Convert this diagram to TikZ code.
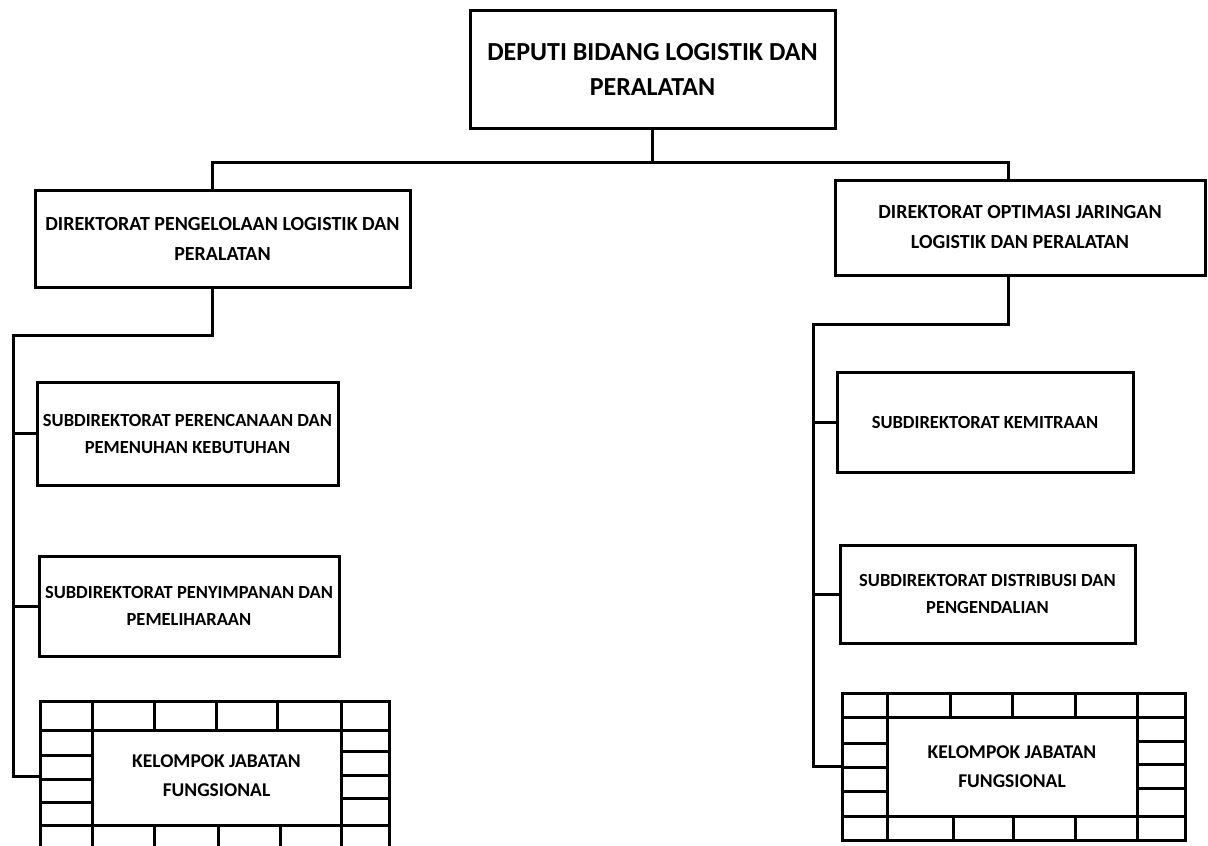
\documentclass[tikz,border=0pt]{standalone}
\usepackage{fontspec}
\setmainfont{Carlito}
\begin{document}
\begin{tikzpicture}[
  x=1pt, y=-1pt,
  line width=3pt,
  unit/.style={draw, rectangle, align=center, inner sep=0pt, font=\bfseries},
  head/.style={unit, font=\fontsize{26}{35}\selectfont\bfseries},
  dir/.style={unit, font=\fontsize{20}{30}\selectfont\bfseries},
  sub/.style={unit, font=\fontsize{18.5}{27}\selectfont\bfseries},
  grp/.style={unit},
  grptext/.style={align=center, inner sep=0pt, font=\fontsize{19.5}{29}\selectfont\bfseries},
  link/.style={draw, line width=3pt},
]
  \useasboundingbox (0,0) rectangle (1208,846);
  \clip (0,0) rectangle (1208,846);

  \node[head, minimum width=365pt, minimum height=118pt] (deputi) at (652.5,69)
    {DEPUTI BIDANG LOGISTIK DAN\\PERALATAN};

  \node[dir, minimum width=375pt, minimum height=97pt] (dirL) at (222.5,238.5)
    {DIREKTORAT PENGELOLAAN LOGISTIK DAN\\PERALATAN};
  \node[dir, minimum width=370pt, minimum height=95pt] (dirR) at (1020,227.5)
    {DIREKTORAT OPTIMASI JARINGAN\\LOGISTIK DAN PERALATAN};

  \node[sub, minimum width=301pt, minimum height=103pt] (subL1) at (187.5,433.5)
    {SUBDIREKTORAT PERENCANAAN DAN\\PEMENUHAN KEBUTUHAN};
  \node[sub, minimum width=300pt, minimum height=100pt] (subL2) at (189,606)
    {SUBDIREKTORAT PENYIMPANAN DAN\\PEMELIHARAAN};
  \node[sub, minimum width=296pt, minimum height=100pt] (subR1) at (985,422)
    {SUBDIREKTORAT KEMITRAAN};
  \node[sub, minimum width=295pt, minimum height=98pt] (subR2) at (987.5,594)
    {SUBDIREKTORAT DISTRIBUSI DAN\\PENGENDALIAN};

  % kelompok jabatan fungsional, brick frame
  \node[grp, minimum width=349pt, minimum height=151pt] (grpL) at (214.5,776.5) {};
  \node[grptext] (grpLtxt) at (216.5,776) {KELOMPOK JABATAN\\FUNGSIONAL};
  \draw (40,730) -- (389,730) (40,825) -- (389,825);
  \draw (92,701) -- (92,852) (341,701) -- (341,852);
  \foreach \x in {154,216,277} \draw (\x,701) -- (\x,730);
  \foreach \x in {154,218,280} \draw (\x,825) -- (\x,852);
  \foreach \y in {755,779,802} \draw (40,\y) -- (92,\y);
  \foreach \y in {751,775,798} \draw (341,\y) -- (389,\y);

  \node[grp, minimum width=343pt, minimum height=147pt] (grpR) at (1013.5,766.5) {};
  \node[grptext] (grpRtxt) at (1012,767) {KELOMPOK JABATAN\\FUNGSIONAL};
  \draw (842,717) -- (1185,717) (842,816) -- (1185,816);
  \draw (887,693) -- (887,840) (1137,693) -- (1137,840);
  \foreach \x in {950,1012,1075} \draw (\x,693) -- (\x,717);
  \foreach \x in {953,1013,1075} \draw (\x,816) -- (\x,840);
  \foreach \y in {743,767,791} \draw (842,\y) -- (887,\y);
  \foreach \y in {741,764,788} \draw (1137,\y) -- (1185,\y);

  % connectors
  \coordinate (jL) at (212,162);
  \coordinate (jR) at (1008,162);
  \draw[link] (deputi.south) -- (deputi.south |- jL);
  \draw[link] (jL |- dirL.north) -- (jL) -- (jR) -- (jR |- dirR.north);

  \coordinate (bendL) at (212,335);
  \coordinate (spineL) at (13,335);
  \draw[link] (jL |- dirL.south) -- (bendL) -- (spineL) -- (spineL |- grpL.west) -- (grpL.west);
  \draw[link] (spineL |- subL1.west) -- (subL1.west);
  \draw[link] (spineL |- subL2.west) -- (subL2.west);

  \coordinate (bendR) at (1008,324);
  \coordinate (spineR) at (813,324);
  \draw[link] (jR |- dirR.south) -- (bendR) -- (spineR) -- (spineR |- grpR.west) -- (grpR.west);
  \draw[link] (spineR |- subR1.west) -- (subR1.west);
  \draw[link] (spineR |- subR2.west) -- (subR2.west);
\end{tikzpicture}
\end{document}
